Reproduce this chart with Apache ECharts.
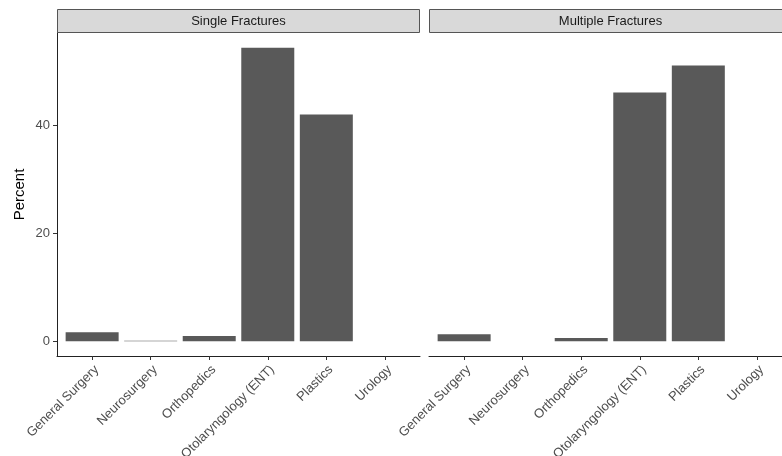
<!DOCTYPE html>
<html>
<head>
<meta charset="utf-8">
<script src="https://cdn.jsdelivr.net/npm/echarts@6/dist/echarts.min.js"></script>
<style>
  html, body { margin: 0; padding: 0; background: #fff; }
  #chart { width: 782px; height: 456px; }
</style>
</head>
<body>
<div id="chart"></div>
<script>
const categories = ["General Surgery", "Neurosurgery", "Orthopedics", "Otolaryngology (ENT)", "Plastics", "Urology"];
const panels = ["Single Fractures", "Multiple Fractures"];
const singleValues = [1.7, 0.1, 1.0, 54.4, 42.0, 0];
const multipleValues = [1.3, 0, 0.6, 46.1, 51.1, 0];
const yTicks = [0, 20, 40];

const chart = echarts.init(document.getElementById("chart"), null, { renderer: "canvas" });

const FONT = "Liberation Sans, Arial, sans-serif";
const panelLeft = [57, 429];
const panelWidth = 363;
const panelTop = 33;
const panelHeight = 323;
// ggplot-like expansion: 5% of data range on y, 0.6 units on discrete x
const yMax = 54.4 * 1.05;
const yMin = -54.4 * 0.05;

function toPoints(values) {
  return values.map((v, i) => [i, v]);
}

function xAxisFor(idx) {
  return {
    type: "value",
    gridIndex: idx,
    min: -0.6,
    max: categories.length - 1 + 0.6,
    splitLine: { show: false },
    axisLine: { show: true, onZero: false, lineStyle: { color: "#222", width: 1 } },
    axisTick: { show: true, length: 4, customValues: categories.map((_, i) => i), lineStyle: { color: "#333" } },
    axisLabel: {
      customValues: categories.map((_, i) => i),
      formatter: (v) => categories[v] || "",
      rotate: 45,
      verticalAlign: "top",
      color: "#4d4d4d",
      fontFamily: FONT,
      fontSize: 13,
      margin: 7,
    },
  };
}

function yAxisFor(idx, showAxis) {
  return {
    type: "value",
    gridIndex: idx,
    min: yMin,
    max: yMax,
    splitLine: { show: false },
    name: showAxis ? "Percent" : "",
    nameLocation: "middle",
    nameGap: 30,
    nameTextStyle: { color: "#000", fontFamily: FONT, fontSize: 15 },
    axisLine: { show: showAxis, onZero: false, lineStyle: { color: "#222", width: 1 } },
    axisTick: { show: showAxis, length: 4, customValues: yTicks, lineStyle: { color: "#333" } },
    axisLabel: {
      show: showAxis,
      customValues: yTicks,
      color: "#4d4d4d",
      fontFamily: FONT,
      fontSize: 13,
      margin: 7,
    },
  };
}

function strip(idx) {
  return [
    {
      type: "rect",
      shape: { x: panelLeft[idx] + 0.5, y: 9.5, width: panelWidth - 1, height: 23 },
      style: { fill: "#d9d9d9", stroke: "#555", lineWidth: 1 },
    },
    {
      type: "text",
      x: panelLeft[idx] + panelWidth / 2,
      y: 21,
      style: {
        text: panels[idx],
        fill: "#1a1a1a",
        font: "13px " + FONT,
        align: "center",
        verticalAlign: "middle",
      },
    },
  ];
}

function barSeries(idx, values) {
  return {
    type: "bar",
    xAxisIndex: idx,
    yAxisIndex: idx,
    barWidth: 53,
    data: toPoints(values),
    itemStyle: { color: "#595959" },
    emphasis: { disabled: true },
  };
}

chart.setOption({
  backgroundColor: "#fff",
  animation: false,
  grid: panelLeft.map((left) => ({
    left: left,
    top: panelTop,
    width: panelWidth,
    height: panelHeight,
    containLabel: false,
    outerBoundsMode: "none",
  })),
  xAxis: [xAxisFor(0), xAxisFor(1)],
  yAxis: [yAxisFor(0, true), yAxisFor(1, false)],
  series: [barSeries(0, singleValues), barSeries(1, multipleValues)],
  graphic: [...strip(0), ...strip(1)],
});
</script>
</body>
</html>
